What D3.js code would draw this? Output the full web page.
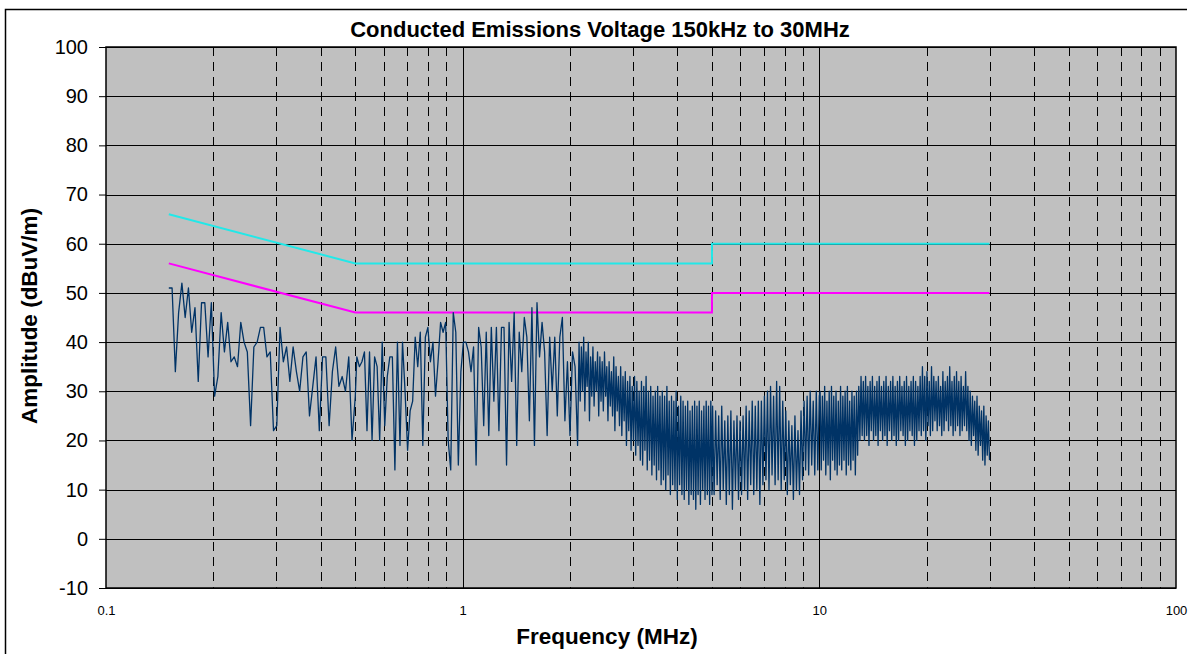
<!DOCTYPE html>
<html>
<head>
<meta charset="utf-8">
<script src="https://cdn.jsdelivr.net/npm/d3@7"></script>
<style>
  body { margin: 0; background: #fff; }
  svg { display: block; font-family: "Liberation Sans", Arial, sans-serif; }
</style>
</head>
<body>
<div id="chart"></div>
<script>
// chart data
var chartTitle = "Conducted Emissions Voltage 150kHz to 30MHz";
var yTicks = [-10, 0, 10, 20, 30, 40, 50, 60, 70, 80, 90, 100];
var xTicks = [0.1, 1, 10, 100];

// limit lines (MHz / dBuV)
var limitFreq = [0.15, 0.5, 5, 5, 30];
var quasiPeakLimit = [66, 56, 56, 60, 60];
var averageLimit = [56, 46, 46, 50, 50];

var band1 = { start: 0.15, stop: 0.5, values: [51,51,34,46,52,45,51,42,47,32,48,48,37,48,29,33,46,38,44,36,37,35,44,40,38,23,39,40,43,43,37,38,22,23,43,36,39,32,39,34,30,37,38,25,31,37,22,37,37,23,34,39,31,33,30,37,20,29] };
var band2 = { start: 0.505, stop: 2.1, values: [37,35,36,38,22,38,20,37,35,20,40,23,33,37,37,14,40,19,40,30,18,26,28,41,35,42,19,41,43,36,40,29,36,44,42,44,20,14,46,42,15,34,40,40,38,34,39,15,43,39,23,42,21,43,28,43,22,43,43,15,44,32,46,19,42,34,45,41,24,47,19,48,37,44,38,21,41,30,41,25,41,45,24,36,21,38,35,19] };
var band3 = { start: 2.12, stop: 5, values: [40,28,39,30,41,26,38,31,40,24,37,29,39,27,36,30,38,25,
  37,28,36,26,38,29,35,24,36,27,34,25,37,22,35,26,33,23,
  35,21,33,24,34,19,32,22,33,18,31,20,33,17,32,19,30,16,
  32,15,31,18,33,14,30,16,31,13,29,15,30,12,31,14,29,11,
  30,12,29,10,31,13,28,9,29,11,28,10,30,8,27,11,29,9,
  28,8,27,10,28,7,26,9,27,8,28,6,27,9,28,7,26,10,27,8,28,9,27,7,28,9] };
var band4 = { start: 5.02, stop: 10, values: [27,9,26,11,25,8,27,10,24,7,25,9,26,6,24,10,25,8,24,
  9,25,10,27,8,26,11,28,9,27,10,28,7,
  28,11,29,12,30,10,31,13,29,11,32,12,31,
  10,28,12,26,9,24,11,23,8,25,10,22,9,
  26,12,28,14,29,13,30,15,28,13,30,14,29] };
var band5 = { start: 10.05, stop: 30, values: [30,14,29,16,31,13,28,15,30,12,31,16,29,14,30,13,28,15,31,14,29,16,30,13,31,15,28,14,30,16,29,13,30,
  17,31,20,33,21,
  32,20,33,21,31,19,32,22,33,20,31,21,32,19,33,22,31,20,32,21,33,19,31,22,32,20,33,21,31,19,32,20,33,22,31,21,32,19,33,20,31,22,32,21,33,19,32,20,31,22,33,
  21,35,22,33,20,34,23,32,21,35,22,33,24,
  32,22,33,23,31,21,34,22,32,24,33,22,35,23,32,21,33,22,34,23,32,21,33,22,31,23,34,22,
  31,20,30,19,29,21,28,18,29,17,27,19,26,16,27,15,25,17,24,16] };
var bands = [band1, band2, band3, band4, band5];

var svgWidth = 1191;
var svgHeight = 654;
var plot = { left: 106, top: 47, right: 1176, bottom: 588 };

var svg = d3.select("#chart")
    .append("svg")
    .attr("width", svgWidth)
    .attr("height", svgHeight);

// outer chart frame (only top / left edges fall inside the picture)
svg.append("path")
    .attr("d", "M5.5,660 V9.5 H1187")
    .attr("fill", "none")
    .attr("stroke", "#000")
    .attr("stroke-width", 1.5);

var x = d3.scaleLog().domain([0.1, 100]).range([plot.left, plot.right]);
var y = d3.scaleLinear().domain([-10, 100]).range([plot.bottom, plot.top]);

// plot background
svg.append("rect")
    .attr("x", plot.left)
    .attr("y", plot.top)
    .attr("width", plot.right - plot.left)
    .attr("height", plot.bottom - plot.top)
    .attr("fill", "#c0c0c0");

// vertical grid: solid at decades, dashed between
var minorF = [];
[0.1, 1, 10].forEach(function(dec) {
    for (var m = 2; m <= 9; m++) minorF.push(dec * m);
});
svg.append("g").selectAll("line")
    .data(minorF)
    .enter()
    .append("line")
    .attr("x1", d => Math.round(x(d)) + 0.5)
    .attr("x2", d => Math.round(x(d)) + 0.5)
    .attr("y1", plot.top)
    .attr("y2", plot.bottom)
    .attr("stroke", "#000")
    .attr("stroke-width", 1)
    .attr("stroke-dasharray", "9,6");

svg.append("g").selectAll("line")
    .data([1, 10])
    .enter()
    .append("line")
    .attr("x1", d => Math.round(x(d)) + 0.5)
    .attr("x2", d => Math.round(x(d)) + 0.5)
    .attr("y1", plot.top)
    .attr("y2", plot.bottom)
    .attr("stroke", "#000")
    .attr("stroke-width", 1);

// horizontal grid
svg.append("g").selectAll("line")
    .data(yTicks)
    .enter()
    .append("line")
    .attr("x1", plot.left)
    .attr("x2", plot.right)
    .attr("y1", d => Math.round(y(d)) + 0.5)
    .attr("y2", d => Math.round(y(d)) + 0.5)
    .attr("stroke", "#000")
    .attr("stroke-width", 1);

// limit lines
var freqLine = d3.line()
    .x(d => x(d[0]))
    .y(d => y(d[1]));

svg.append("path")
    .datum(d3.zip(limitFreq, quasiPeakLimit))
    .attr("d", freqLine)
    .attr("fill", "none")
    .attr("stroke", "#22e8e8")
    .attr("stroke-width", 2);

svg.append("path")
    .datum(d3.zip(limitFreq, averageLimit))
    .attr("d", freqLine)
    .attr("fill", "none")
    .attr("stroke", "#ff00ff")
    .attr("stroke-width", 2);

// measured trace: values in each band are equally spaced on the log sweep
var trace = [];
bands.forEach(function(b) {
    var n = b.values.length;
    b.values.forEach(function(v, i) {
        var f = b.start * Math.pow(b.stop / b.start, i / (n - 1));
        trace.push([f, v]);
    });
});

svg.append("path")
    .datum(trace)
    .attr("d", freqLine)
    .attr("fill", "none")
    .attr("stroke", "#003366")
    .attr("stroke-width", 1.3)
    .attr("stroke-linejoin", "round");

// plot frame
svg.append("rect")
    .attr("x", plot.left)
    .attr("y", plot.top)
    .attr("width", plot.right - plot.left)
    .attr("height", plot.bottom - plot.top)
    .attr("fill", "none")
    .attr("stroke", "#000")
    .attr("stroke-width", 1.5);

// axes
var leftAxis = d3.axisLeft(y)
    .tickValues(yTicks)
    .tickFormat(d => String(d))
    .tickSize(7)
    .tickPadding(11);
var gy = svg.append("g")
    .attr("transform", `translate(${plot.left}, 0)`)
    .call(leftAxis);
gy.select(".domain").remove();
gy.selectAll("text")
    .attr("font-size", "20px")
    .attr("fill", "#000")
    .attr("font-family", "'Liberation Sans', Arial, sans-serif");

var bottomAxis = d3.axisBottom(x)
    .tickValues(xTicks)
    .tickFormat(d3.format("~g"))
    .tickSize(0)
    .tickPadding(18);
var gx = svg.append("g")
    .attr("transform", `translate(0, ${plot.bottom})`)
    .call(bottomAxis);
gx.select(".domain").remove();
gx.selectAll("text")
    .attr("font-size", "13px")
    .attr("fill", "#000")
    .attr("font-family", "'Liberation Sans', Arial, sans-serif");

// titles
svg.append("text")
    .attr("x", 600)
    .attr("y", 37)
    .attr("text-anchor", "middle")
    .attr("font-size", "22px")
    .attr("font-weight", "bold")
    .text(chartTitle);

svg.append("text")
    .attr("x", 607)
    .attr("y", 644)
    .attr("text-anchor", "middle")
    .attr("font-size", "22.5px")
    .attr("font-weight", "bold")
    .text("Frequency (MHz)");

svg.append("text")
    .attr("transform", "translate(37, 316) rotate(-90)")
    .attr("text-anchor", "middle")
    .attr("font-size", "22.5px")
    .attr("font-weight", "bold")
    .text("Amplitude (dBuV/m)");
</script>
</body>
</html>
